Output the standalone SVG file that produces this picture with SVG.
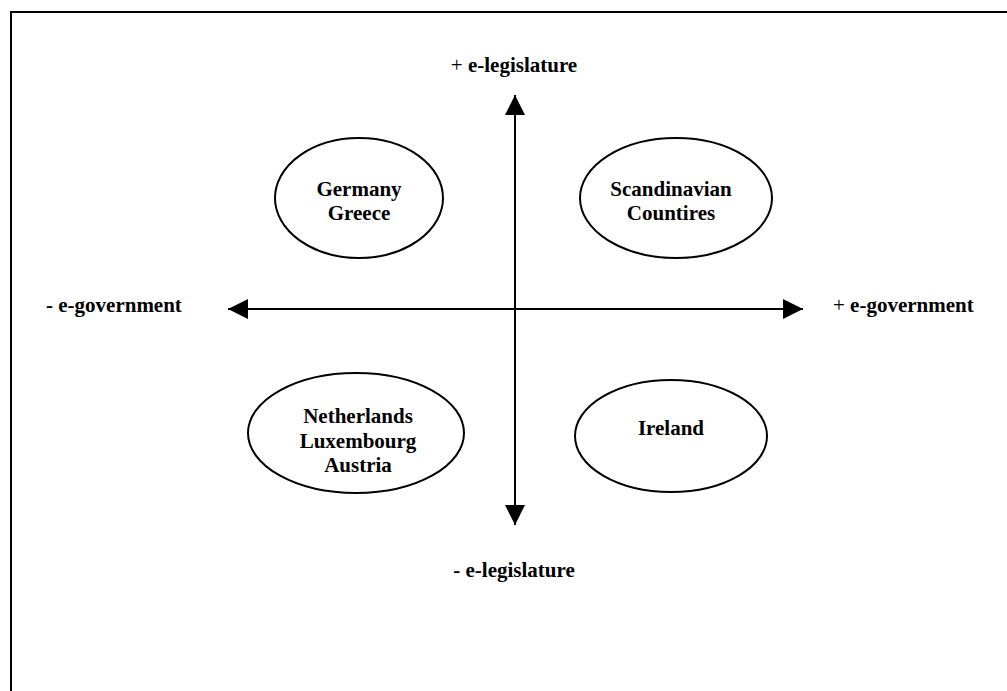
<svg xmlns="http://www.w3.org/2000/svg" width="1007" height="691" viewBox="0 0 1007 691">
<style>
text{font-family:"Liberation Serif","Times New Roman",serif;font-size:21px;font-weight:bold;fill:#000}
.n{font-weight:normal}
.node ellipse{fill:#fff;stroke:#000;stroke-width:2}
.axis{stroke:#000;stroke-width:2;fill:none}
</style>
<defs>
<marker id="ah" viewBox="0 0 20 20" refX="20" refY="10" markerWidth="20" markerHeight="20" markerUnits="userSpaceOnUse" orient="auto-start-reverse">
<path d="M0,0 L20,10 L0,20 Z" fill="#000"/>
</marker>
</defs>
<rect width="1007" height="691" fill="#fff"/>
<path d="M11,691 V12 H1007" fill="none" stroke="#000" stroke-width="2"/>
<g id="connectors">
<line class="axis" x1="515" y1="525" x2="515" y2="95" marker-end="url(#ah)" marker-start="url(#ah)"/>
<line class="axis" x1="228" y1="309" x2="803" y2="309" marker-end="url(#ah)" marker-start="url(#ah)"/>
</g>
<g id="labels">
<text x="514" y="72" text-anchor="middle"><tspan class="n">+</tspan> e-legislature</text>
<text x="514" y="577" text-anchor="middle">- e-legislature</text>
<text x="46" y="312">- e-government</text>
<text x="833" y="312"><tspan class="n">+</tspan> e-government</text>
</g>
<g id="germany" class="node">
<ellipse cx="359" cy="198" rx="84" ry="60"/>
<text x="359" y="196" text-anchor="middle">Germany</text>
<text x="359" y="220" text-anchor="middle">Greece</text>
</g>
<g id="scandinavian" class="node">
<ellipse cx="676" cy="198" rx="96" ry="60"/>
<text x="671" y="196" text-anchor="middle">Scandinavian</text>
<text x="671" y="220" text-anchor="middle">Countires</text>
</g>
<g id="netherlands" class="node">
<ellipse cx="356" cy="433" rx="108" ry="60"/>
<text x="358" y="423" text-anchor="middle">Netherlands</text>
<text x="358" y="448" text-anchor="middle">Luxembourg</text>
<text x="358" y="472" text-anchor="middle">Austria</text>
</g>
<g id="ireland" class="node">
<ellipse cx="671" cy="436" rx="96" ry="56"/>
<text x="671" y="435" text-anchor="middle">Ireland</text>
</g>
</svg>
